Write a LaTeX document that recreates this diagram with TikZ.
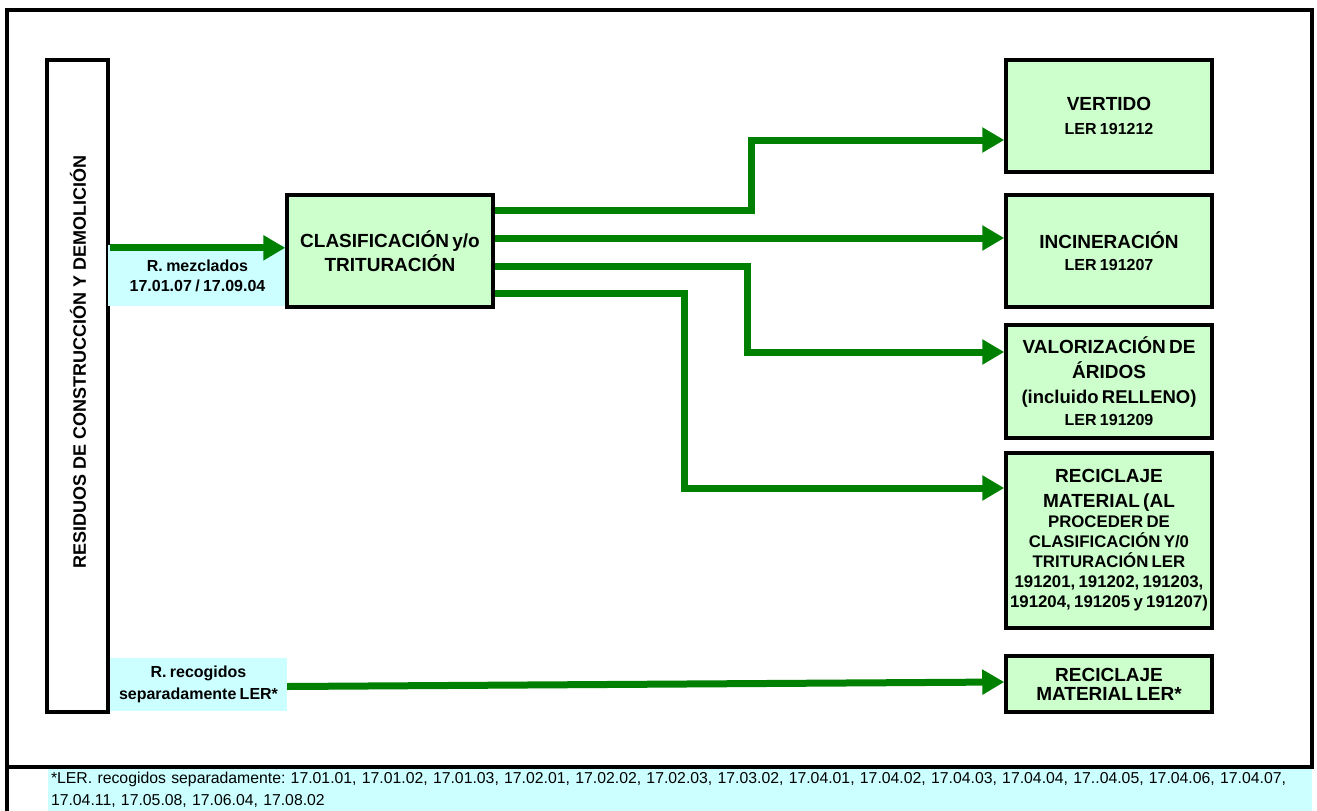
\documentclass[tikz,border=0pt]{standalone}
\usepackage{fontspec}
\setmainfont{Liberation Sans}
\usetikzlibrary{arrows.meta,calc}
\definecolor{flowgreen}{RGB}{0,128,0}
\definecolor{boxgreen}{RGB}{204,255,204}
\definecolor{labcyan}{RGB}{204,255,255}
\newcommand\Fs[2]{\fontsize{#1}{#2}\selectfont}
\frenchspacing
\begin{document}
\begin{tikzpicture}[x=1pt,y=-1pt,
  box/.style={draw=black, line width=3.5pt, fill=boxgreen, minimum width=206, inner xsep=0pt, inner ysep=0pt, text width=206pt, align=center, font=\bfseries},
  lab/.style={fill=labcyan, inner sep=0pt, align=center, font=\bfseries},
  frame/.style={draw=black, line width=3.5pt},
  flow/.style={draw=flowgreen, line width=7pt, -{Triangle[length=22pt,width=24pt]}},
]
\useasboundingbox (0,0) rectangle (1317,811);

% footer band
\node[fill=labcyan, minimum width=1264, minimum height=43, inner sep=0pt, text width=1262pt, align=left, font=\Fs{15.8}{22}] (foot) at (680,789.5)
 {\hspace*{2pt}*LER. recogidos separadamente: 17.01.01, 17.01.02, 17.01.03, 17.02.01, 17.02.02, 17.02.03, 17.03.02, 17.04.01, 17.04.02, 17.04.03, 17.04.04, 17..04.05, 17.04.06, 17.04.07,\\\hspace*{2pt}17.04.11, 17.05.08, 17.06.04, 17.08.02\par\vspace{2pt}};

% outer frame
\draw[frame] (7,10) rectangle (1312,767);
\draw[frame] (7,767) -- (7,811);

% left tall box
\node[frame, minimum width=61, minimum height=652, inner sep=0pt] (res) at (77.5,386) {};
\node[rotate=90, font=\bfseries\Fs{18}{22}, inner sep=0pt] (restxt) at (78,362) {RESIDUOS DE CONSTRUCCIÓN Y DEMOLICIÓN};

% cyan labels
\node[lab, minimum width=179, minimum height=61, text width=179pt] (mez) at (197.5,275.5)
 {\Fs{16}{20}R. mezclados\par 17.01.07 / 17.09.04\par\vspace{5pt}};
\node[lab, minimum width=177, minimum height=53, text width=177pt] (sep) at (198.5,684.5)
 {\Fs{16}{22}R. recogidos\par separadamente LER*\par\vspace{10pt}};

% process box
\node[box, minimum height=112] (cla) at (390,251)
 {\Fs{19}{24}CLASIFICACIÓN y/o\par TRITURACIÓN\par};

% destination boxes
\node[box, minimum height=112] (ver) at (1109,116)
 {\Fs{19}{24}VERTIDO\par\Fs{16}{24}LER 191212\par};
\node[box, minimum height=112] (inc) at (1109,251)
 {\Fs{19}{22}INCINERACIÓN\par\Fs{16}{22}LER 191207\par};
\node[box, minimum height=113] (val) at (1109,381.5)
 {\Fs{19}{25}VALORIZACIÓN DE\par ÁRIDOS\par\Fs{18.5}{25}(incluido RELLENO)\par\Fs{16}{22}LER 191209\par};
\node[box, minimum height=175] (rec) at (1109,540.5)
 {\Fs{19}{25}RECICLAJE\par MATERIAL (AL\par\Fs{16.8}{20}PROCEDER DE\par CLASIFICACIÓN Y/0\par TRITURACIÓN LER\par 191201, 191202, 191203,\par 191204, 191205 y 191207)\par};
\node[box, minimum height=56] (rml) at (1109,684)
 {\Fs{19}{19}RECICLAJE\par MATERIAL LER*\par\vspace{6pt}};

% connectors
\draw[flow] ($(res.east |- mez.north)+(0,3)$) -- ($(cla.west |- mez.north)+(0,3)$);
\draw[flow] ($(cla.east)+(0,-41)$) -- ++(257,0) |- ($(ver.west)+(0,24)$);
\draw[flow] ($(cla.east)+(0,-13)$) -- ($(inc.west)+(0,-13)$);
\draw[flow] ($(cla.east)+(0,15)$) -- ++(253,0) |- ($(val.west)+(0,-29.5)$);
\draw[flow] ($(cla.east)+(0,42)$) -- ++(190,0) |- ($(rec.west)+(0,-52.5)$);
\draw[flow] ($(sep.east)+(0,2)$) -- ($(rml.west)+(0,-2)$);
\end{tikzpicture}
\end{document}
